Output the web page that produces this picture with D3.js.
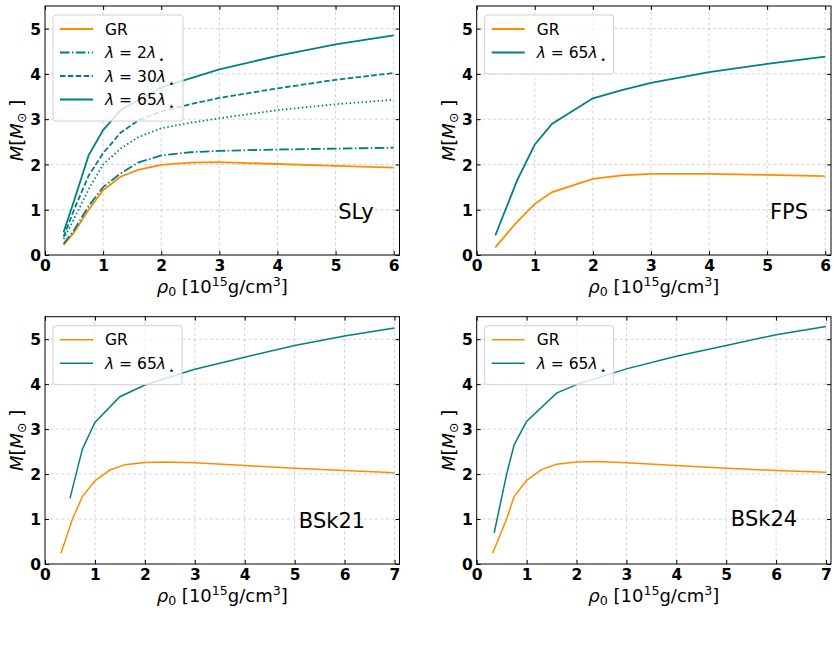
<!DOCTYPE html>
<html>
<head>
<meta charset="utf-8">
<script src="https://cdn.jsdelivr.net/npm/d3@7"></script>
<style>
  body { margin: 0; background: #fff; }
  svg { font-family: "DejaVu Sans", sans-serif; }
</style>
</head>
<body>
<svg id="chart" width="838" height="663"></svg>
<script>
// ---- data ----
// SLy
const slyGR    = [[0.32,0.22],[0.5,0.5],[0.75,1.0],[1.0,1.43],[1.3,1.73],[1.6,1.88],[2.0,1.99],[2.5,2.04],[3.0,2.05],[4.0,2.01],[5.0,1.97],[6.0,1.93]];
const sly2     = [[0.32,0.25],[0.5,0.55],[0.75,1.08],[1.0,1.5],[1.3,1.8],[1.6,2.04],[2.0,2.2],[2.5,2.27],[3.0,2.3],[4.0,2.33],[5.0,2.35],[6.0,2.37]];
const slyDot   = [[0.32,0.35],[0.5,0.8],[0.75,1.45],[1.0,2.0],[1.3,2.35],[1.6,2.6],[2.0,2.8],[2.5,2.92],[3.0,3.02],[4.0,3.2],[5.0,3.33],[6.0,3.43]];
const sly30    = [[0.32,0.4],[0.5,1.0],[0.75,1.75],[1.0,2.25],[1.3,2.7],[1.6,2.97],[2.0,3.17],[2.5,3.33],[3.0,3.47],[4.0,3.68],[5.0,3.87],[6.0,4.02]];
const sly65    = [[0.32,0.5],[0.5,1.2],[0.75,2.2],[1.0,2.76],[1.3,3.2],[1.6,3.42],[2.0,3.7],[2.5,3.9],[3.0,4.1],[4.0,4.4],[5.0,4.65],[6.0,4.85]];
// FPS
const fpsGR    = [[0.32,0.17],[0.7,0.74],[1.0,1.13],[1.3,1.39],[2.0,1.68],[2.5,1.76],[3.0,1.79],[4.0,1.79],[5.0,1.77],[6.0,1.74]];
const fps65    = [[0.32,0.43],[0.7,1.66],[1.0,2.44],[1.3,2.9],[2.0,3.46],[2.5,3.64],[3.0,3.8],[4.0,4.04],[5.0,4.22],[6.0,4.38]];
// BSk21
const bsk21GR  = [[0.32,0.24],[0.55,1.0],[0.75,1.5],[1.0,1.85],[1.3,2.09],[1.6,2.21],[2.0,2.26],[2.4,2.27],[3.0,2.25],[4.0,2.19],[5.0,2.13],[6.0,2.08],[7.0,2.03]];
const bsk21_65 = [[0.5,1.46],[0.75,2.56],[1.0,3.15],[1.5,3.72],[2.0,3.98],[3.0,4.33],[4.0,4.6],[5.0,4.86],[6.0,5.07],[7.0,5.25]];
// BSk24
const bsk24GR  = [[0.32,0.24],[0.6,1.0],[0.75,1.5],[1.0,1.86],[1.3,2.1],[1.6,2.22],[2.0,2.27],[2.4,2.28],[3.0,2.25],[4.0,2.19],[5.0,2.13],[6.0,2.08],[7.0,2.04]];
const bsk24_65 = [[0.35,0.69],[0.6,2.0],[0.75,2.65],[1.0,3.17],[1.6,3.8],[2.0,3.99],[3.0,4.34],[4.0,4.62],[5.0,4.86],[6.0,5.1],[7.0,5.28]];

const xTicksTop = [0,1,2,3,4,5,6];
const xTicksBot = [0,1,2,3,4,5,6,7];
const yTicks = [0,1,2,3,4,5];

const ORANGE = "#ff8c00", TEAL = "#008080";

const svg = d3.select("#chart");

function panel(cfg) {
  const x = d3.scaleLinear().domain(cfg.xDomain).range([cfg.left, cfg.right]);
  const y = d3.scaleLinear().domain([0, 5.5]).range([cfg.bottom, cfg.top]);
  const g = svg.append("g");

  // grid
  g.append("g").selectAll("line").data(cfg.xTicks.slice(1)).enter().append("line")
    .attr("x1", d => x(d)).attr("x2", d => x(d)).attr("y1", cfg.top).attr("y2", cfg.bottom)
    .attr("stroke", "#c8c8c8").attr("stroke-width", 0.8).attr("stroke-dasharray", "3,2.5");
  g.append("g").selectAll("line").data(yTicks.slice(1)).enter().append("line")
    .attr("y1", d => y(d)).attr("y2", d => y(d)).attr("x1", cfg.left).attr("x2", cfg.right)
    .attr("stroke", "#c8c8c8").attr("stroke-width", 0.8).attr("stroke-dasharray", "3,2.5");

  // curves
  const line = d3.line().x(d => x(d[0])).y(d => y(d[1]));
  cfg.series.forEach(s => {
    g.append("path").datum(s.data).attr("d", line).attr("fill", "none")
      .attr("stroke", s.color).attr("stroke-width", s.width || 1.6)
      .attr("stroke-dasharray", s.dash || null);
  });

  // axes, ticks inward on all sides
  const w = cfg.right - cfg.left, h = cfg.bottom - cfg.top;
  const ax = (gen, tr) => g.append("g").attr("transform", tr).call(gen)
    .call(a => a.select(".domain").remove());
  const bottom = ax(d3.axisBottom(x).tickValues(cfg.xTicks).tickSizeInner(-4).tickPadding(5).tickFormat(d3.format("d")), `translate(0,${cfg.bottom})`);
  ax(d3.axisTop(x).tickValues(cfg.xTicks).tickSizeInner(-4).tickFormat(""), `translate(0,${cfg.top})`);
  const left = ax(d3.axisLeft(y).tickValues(yTicks).tickSizeInner(-4).tickPadding(4).tickFormat(d3.format("d")), `translate(${cfg.left},0)`);
  ax(d3.axisRight(y).tickValues(yTicks).tickSizeInner(-4).tickFormat(""), `translate(${cfg.right},0)`);
  [bottom, left].forEach(a => a.selectAll("text").attr("font-size", 15.5).attr("font-weight", "bold")
    .attr("font-family", "DejaVu Sans").attr("fill", "#000"));
  left.selectAll("text").attr("dy", "0.36em");
  g.append("rect").attr("x", cfg.left).attr("y", cfg.top).attr("width", w).attr("height", h)
    .attr("fill", "none").attr("stroke", "#000").attr("stroke-width", 1);

  // axis labels
  const xl = g.append("text").attr("x", (cfg.left + cfg.right) / 2).attr("y", cfg.bottom + 38)
    .attr("text-anchor", "middle").attr("font-size", 18);
  xl.append("tspan").attr("font-style", "italic").text("ρ");
  xl.append("tspan").attr("font-size", 12.6).attr("dy", 3).text("0");
  xl.append("tspan").attr("dy", -3).text(" [10");
  xl.append("tspan").attr("font-size", 12.6).attr("dy", -7).text("15");
  xl.append("tspan").attr("dy", 7).text("g/cm");
  xl.append("tspan").attr("font-size", 12.6).attr("dy", -7).text("3");
  xl.append("tspan").attr("dy", 7).text("]");

  const yl = g.append("text").attr("transform", `translate(${cfg.left - 22},${(cfg.top + cfg.bottom) / 2}) rotate(-90)`)
    .attr("text-anchor", "middle").attr("font-size", 18);
  yl.append("tspan").attr("font-style", "italic").text("M");
  yl.append("tspan").text("[");
  yl.append("tspan").attr("font-style", "italic").text("M");
  yl.append("tspan").attr("font-size", 12.6).attr("dy", 3).text("⊙");
  yl.append("tspan").attr("dy", -3).text(" ]");

  // EOS name
  g.append("text").attr("x", cfg.nameX).attr("y", cfg.nameY).attr("text-anchor", "middle")
    .attr("font-size", 21).text(cfg.name);

  // legend
  const items = cfg.series.filter(s => s.label);
  const lx = cfg.left + 8, ly = cfg.top + 9;
  const lw = cfg.legendW, lh = 12 + items.length * 23.5;
  g.append("rect").attr("x", lx).attr("y", ly).attr("width", lw).attr("height", lh).attr("rx", 3)
    .attr("fill", "rgba(255,255,255,0.8)").attr("stroke", "#d0d0d0").attr("stroke-width", 1);
  items.forEach((s, i) => {
    const yy = ly + 14 + i * 23.5;
    g.append("line").attr("x1", lx + 7).attr("x2", lx + 40).attr("y1", yy).attr("y2", yy)
      .attr("stroke", s.color).attr("stroke-width", s.width || 1.6).attr("stroke-dasharray", s.dash || null);
    const t = g.append("text").attr("x", lx + 52).attr("y", yy + 5.5).attr("font-size", 15.5);
    if (s.label === "GR") t.text("GR");
    else {
      t.append("tspan").attr("font-style", "italic").text("λ");
      t.append("tspan").text(" = " + s.label);
      t.append("tspan").attr("font-style", "italic").text("λ");
      t.append("tspan").attr("font-size", 11).attr("dx", 2).attr("dy", 5).text("⋆");
    }
  });
}

panel({
  left: 45, right: 399.5, top: 6, bottom: 255, xDomain: [0, 6.1], xTicks: xTicksTop,
  name: "SLy", nameX: 356, nameY: 219, legendW: 130,
  series: [
    { data: slyGR, color: ORANGE, width: 1.8, label: "GR" },
    { data: sly2, color: TEAL, width: 1.8, dash: "9.6,2.4,1.5,2.4", label: "2" },
    { data: slyDot, color: TEAL, width: 1.8, dash: "1.5,2.5" },
    { data: sly30, color: TEAL, width: 1.8, dash: "5.5,2.4", label: "30" },
    { data: sly65, color: TEAL, width: 1.8, label: "65" }
  ]
});
panel({
  left: 476.7, right: 831, top: 6, bottom: 255, xDomain: [0, 6.1], xTicks: xTicksTop,
  name: "FPS", nameX: 789, nameY: 219, legendW: 129,
  series: [
    { data: fpsGR, color: ORANGE, width: 1.8, label: "GR" },
    { data: fps65, color: TEAL, width: 1.8, label: "65" }
  ]
});
panel({
  left: 45, right: 399.5, top: 316.7, bottom: 564, xDomain: [0, 7.1], xTicks: xTicksBot,
  name: "BSk21", nameX: 332, nameY: 528, legendW: 129,
  series: [
    { data: bsk21GR, color: ORANGE, width: 1.5, label: "GR" },
    { data: bsk21_65, color: TEAL, width: 1.5, label: "65" }
  ]
});
panel({
  left: 476.7, right: 831, top: 316.7, bottom: 564, xDomain: [0, 7.1], xTicks: xTicksBot,
  name: "BSk24", nameX: 764, nameY: 526, legendW: 129,
  series: [
    { data: bsk24GR, color: ORANGE, width: 1.5, label: "GR" },
    { data: bsk24_65, color: TEAL, width: 1.5, label: "65" }
  ]
});
</script>
</body>
</html>
